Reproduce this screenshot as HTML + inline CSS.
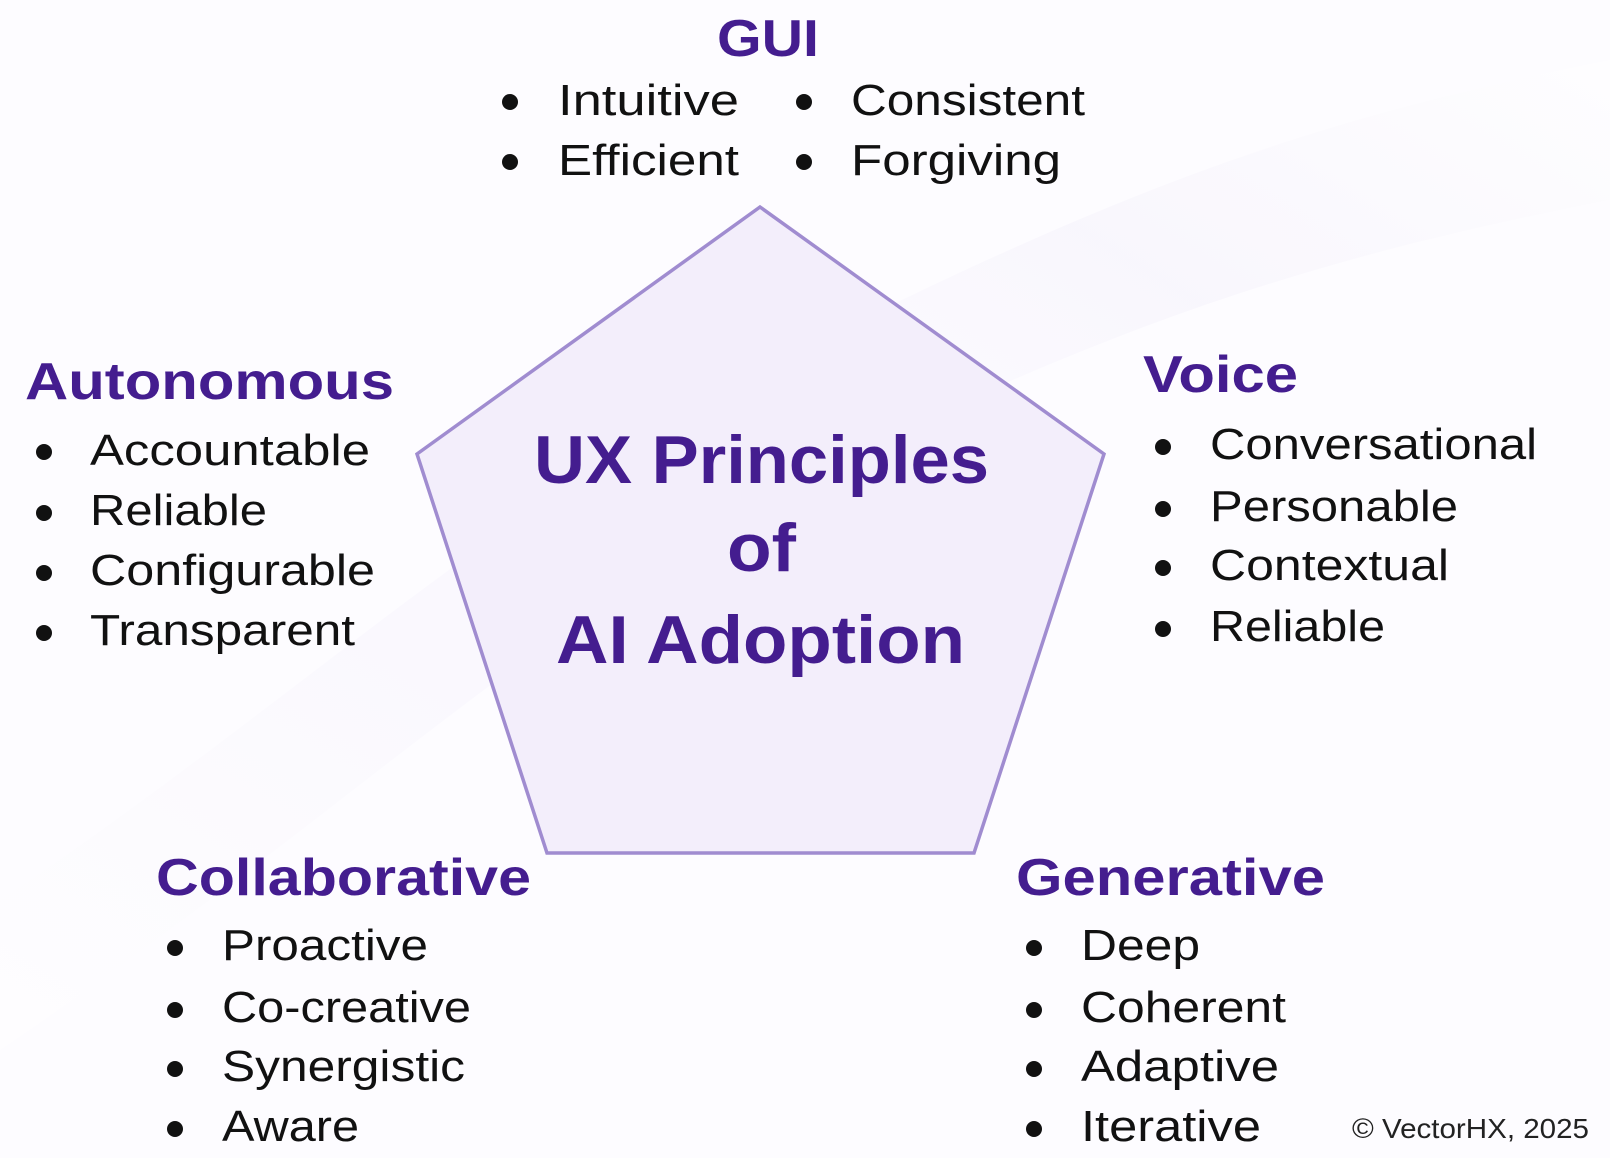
<!DOCTYPE html>
<html><head><meta charset="utf-8"><style>
html,body{margin:0;padding:0;background:#fff;}
svg{display:block;}
.h{font-family:"Liberation Sans",sans-serif;font-weight:bold;fill:#441d8f;}
.t{font-family:"Liberation Sans",sans-serif;fill:#111;font-size:44px;}
</style></head><body>
<svg width="1610" height="1158" viewBox="0 0 1610 1158" xmlns="http://www.w3.org/2000/svg">
<defs>
<linearGradient id="bg" x1="0" y1="1" x2="1" y2="0">
<stop offset="0" stop-color="#ffffff"/>
<stop offset="0.35" stop-color="#f6f3fc"/>
<stop offset="0.55" stop-color="#fbfaff"/>
<stop offset="0.75" stop-color="#f3f0fa"/>
<stop offset="1" stop-color="#ffffff"/>
</linearGradient>
</defs>
<rect width="1610" height="1158" fill="#fdfcff"/>
<path d="M0 900 C300 700 500 500 800 350 C1100 200 1300 120 1610 60 L1610 200 C1300 260 1100 330 800 480 C500 650 300 850 0 1050 Z" fill="url(#bg)" opacity="0.45"/>
<polygon points="760,207 1104,454 974,853 547,853 417,454" fill="#f3eefb" stroke="#a08cd0" stroke-width="3.5"/>
<text class="h" font-size="68" x="534" y="483" textLength="455" lengthAdjust="spacingAndGlyphs">UX Principles</text>
<text class="h" font-size="68" x="727" y="571" textLength="69" lengthAdjust="spacingAndGlyphs">of</text>
<text class="h" font-size="68" x="556" y="663" textLength="409" lengthAdjust="spacingAndGlyphs">AI Adoption</text>

<text class="h" font-size="52" x="717" y="56" textLength="102" lengthAdjust="spacingAndGlyphs">GUI</text>
<g fill="#111">
<circle cx="510" cy="102" r="8"/><circle cx="510" cy="162" r="8"/>
<circle cx="804" cy="102" r="8"/><circle cx="804" cy="162" r="8"/>
</g>
<text class="t" x="558" y="115" textLength="181" lengthAdjust="spacingAndGlyphs">Intuitive</text>
<text class="t" x="558" y="175" textLength="181" lengthAdjust="spacingAndGlyphs">Efficient</text>
<text class="t" x="851" y="115" textLength="234" lengthAdjust="spacingAndGlyphs">Consistent</text>
<text class="t" x="851" y="175" textLength="210" lengthAdjust="spacingAndGlyphs">Forgiving</text>

<text class="h" font-size="52" x="25" y="399" textLength="369" lengthAdjust="spacingAndGlyphs">Autonomous</text>
<g fill="#111"><circle cx="44" cy="452" r="8"/><circle cx="44" cy="513" r="8"/><circle cx="44" cy="573" r="8"/><circle cx="44" cy="633" r="8"/></g>
<text class="t" x="90" y="465" textLength="280" lengthAdjust="spacingAndGlyphs">Accountable</text>
<text class="t" x="90" y="525" textLength="177" lengthAdjust="spacingAndGlyphs">Reliable</text>
<text class="t" x="90" y="585" textLength="285" lengthAdjust="spacingAndGlyphs">Configurable</text>
<text class="t" x="90" y="645" textLength="265" lengthAdjust="spacingAndGlyphs">Transparent</text>

<text class="h" font-size="52" x="1143" y="392" textLength="155" lengthAdjust="spacingAndGlyphs">Voice</text>
<g fill="#111"><circle cx="1163" cy="447" r="8"/><circle cx="1163" cy="509" r="8"/><circle cx="1163" cy="568" r="8"/><circle cx="1163" cy="629" r="8"/></g>
<text class="t" x="1210" y="459" textLength="327" lengthAdjust="spacingAndGlyphs">Conversational</text>
<text class="t" x="1210" y="521" textLength="248" lengthAdjust="spacingAndGlyphs">Personable</text>
<text class="t" x="1210" y="580" textLength="239" lengthAdjust="spacingAndGlyphs">Contextual</text>
<text class="t" x="1210" y="641" textLength="175" lengthAdjust="spacingAndGlyphs">Reliable</text>

<text class="h" font-size="52" x="156" y="895" textLength="375" lengthAdjust="spacingAndGlyphs">Collaborative</text>
<g fill="#111"><circle cx="175" cy="948" r="8"/><circle cx="175" cy="1010" r="8"/><circle cx="175" cy="1069" r="8"/><circle cx="175" cy="1129" r="8"/></g>
<text class="t" x="222" y="960" textLength="206" lengthAdjust="spacingAndGlyphs">Proactive</text>
<text class="t" x="222" y="1022" textLength="249" lengthAdjust="spacingAndGlyphs">Co-creative</text>
<text class="t" x="222" y="1081" textLength="243" lengthAdjust="spacingAndGlyphs">Synergistic</text>
<text class="t" x="222" y="1141" textLength="137" lengthAdjust="spacingAndGlyphs">Aware</text>

<text class="h" font-size="52" x="1016" y="895" textLength="309" lengthAdjust="spacingAndGlyphs">Generative</text>
<g fill="#111"><circle cx="1034" cy="948" r="8"/><circle cx="1034" cy="1010" r="8"/><circle cx="1034" cy="1069" r="8"/><circle cx="1034" cy="1129" r="8"/></g>
<text class="t" x="1081" y="960" textLength="119" lengthAdjust="spacingAndGlyphs">Deep</text>
<text class="t" x="1081" y="1022" textLength="205" lengthAdjust="spacingAndGlyphs">Coherent</text>
<text class="t" x="1081" y="1081" textLength="198" lengthAdjust="spacingAndGlyphs">Adaptive</text>
<text class="t" x="1081" y="1141" textLength="180" lengthAdjust="spacingAndGlyphs">Iterative</text>

<text x="1352" y="1138" font-family="Liberation Sans, sans-serif" font-size="28" fill="#222" textLength="237" lengthAdjust="spacingAndGlyphs">© VectorHX, 2025</text>
</svg>
</body></html>
